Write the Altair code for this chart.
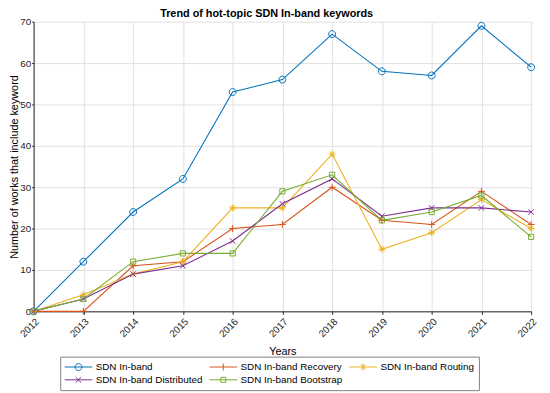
import altair as alt
import pandas as pd

years = list(range(2012, 2023))
series_names = ["SDN In-band", "SDN In-band Recovery", "SDN In-band Routing",
                "SDN In-band Distributed", "SDN In-band Bootstrap"]
inband = [0, 12, 24, 32, 53, 56, 67, 58, 57, 69, 59]
recovery = [0, 0, 11, 12, 20, 21, 30, 22, 21, 29, 21]
routing = [0, 4, 9, 12, 25, 25, 38, 15, 19, 27, 20]
distributed = [0, 3, 9, 11, 17, 26, 32, 23, 25, 25, 24]
bootstrap = [0, 3, 12, 14, 14, 29, 33, 22, 24, 28, 18]
colors = ["#0072BD", "#D95319", "#EDB120", "#7E2F8E", "#77AC30"]
y_ticks = [0, 10, 20, 30, 40, 50, 60, 70]

marker_paths = [
    "M-1,0A1,1 0 1,0 1,0A1,1 0 1,0 -1,0",
    "M-1,0L1,0M0,-1L0,1",
    "M-1,0L1,0M0,-1L0,1M-0.7,-0.7L0.7,0.7M-0.7,0.7L0.7,-0.7",
    "M-0.8,-0.8L0.8,0.8M-0.8,0.8L0.8,-0.8",
    "M-0.75,-0.75L0.75,-0.75L0.75,0.75L-0.75,0.75Z",
]
legend_paths = [
    "M-1,0L1,0M-0.25,0A0.25,0.25 0 1,0 0.25,0A0.25,0.25 0 1,0 -0.25,0",
    "M-1,0L1,0M0,-0.25L0,0.25",
    "M-1,0L1,0M0,-0.25L0,0.25M-0.18,-0.18L0.18,0.18M-0.18,0.18L0.18,-0.18",
    "M-1,0L1,0M-0.2,-0.2L0.2,0.2M-0.2,0.2L0.2,-0.2",
    "M-1,0L1,0M-0.18,-0.18L0.18,-0.18L0.18,0.18L-0.18,0.18Z",
]

all_values = [inband, recovery, routing, distributed, bootstrap]
rows = []
for name, vals in zip(series_names, all_values):
    for yr, v in zip(years, vals):
        rows.append({"year": yr, "value": v, "series": name})
df = pd.DataFrame(rows)

FONT = "Liberation Sans"

x_enc = alt.X("year:Q",
              scale=alt.Scale(domain=[2012, 2022], nice=False, zero=False),
              axis=alt.Axis(values=years, format="d", title="Years",
                            labelAngle=-45, titlePadding=7))
y_enc = alt.Y("value:Q",
              scale=alt.Scale(domain=[0, 70], nice=False),
              axis=alt.Axis(values=y_ticks, title="Number of works that include keyword",
                            titlePadding=0, labelPadding=1, tickSize=2,
                            titleFontSize=11))
color_scale = alt.Scale(domain=series_names, range=colors)

base = alt.Chart(df)

lines = base.mark_line(strokeWidth=1.1).encode(
    x=x_enc, y=y_enc,
    color=alt.Color("series:N", scale=color_scale, legend=None),
    detail="series:N",
)

markers = base.mark_point(filled=False, size=49, strokeWidth=1, opacity=1).encode(
    x="year:Q", y="value:Q",
    color=alt.Color("series:N", scale=color_scale, legend=None),
    shape=alt.Shape("series:N", scale=alt.Scale(domain=series_names, range=marker_paths),
                    legend=None),
)

legend_kw = dict(title=None, orient="none", legendX=27, legendY=340,
                 columns=3, direction="horizontal",
                 symbolOpacity=1, symbolSize=784, symbolStrokeWidth=1,
                 symbolOffset=0, labelOffset=3, clipHeight=13,
                 labelFont=FONT, labelFontSize=10, labelColor="#000000",
                 strokeColor="#7f7f7f", fillColor="#ffffff",
                 padding=4, rowPadding=0, columnPadding=6)

legend_layer = base.mark_point(filled=False, size=784, strokeWidth=1, opacity=0).encode(
    x="year:Q", y="value:Q",
    color=alt.Color("series:N", scale=color_scale, legend=alt.Legend(**legend_kw)),
    shape=alt.Shape("series:N", scale=alt.Scale(domain=series_names, range=legend_paths),
                    legend=alt.Legend(**legend_kw)),
)

chart = alt.layer(lines, markers, legend_layer).resolve_scale(
    color="independent", shape="independent"
).properties(
    width=505, height=294,
    title=alt.Title("Trend of hot-topic SDN In-band keywords", font=FONT, fontSize=11,
                    fontWeight="bold", color="#000000", anchor="middle", dx=-16, dy=6,
                    offset=4),
    autosize=alt.AutoSizeParams(type="none"),
    padding={"left": 26, "top": 11, "right": 11, "bottom": 80},
).configure_axis(
    labelFont=FONT, labelFontSize=10, labelColor="#262626",
    titleFont=FONT, titleFontSize=11, titleFontWeight="normal", titleColor="#000000",
    domainColor="#262626", tickColor="#262626", tickSize=3,
    gridColor="#dfdfdf", gridWidth=1,
).configure_view(stroke=None)

chart.save("out.html", embed_options={"renderer": "svg", "actions": False})
